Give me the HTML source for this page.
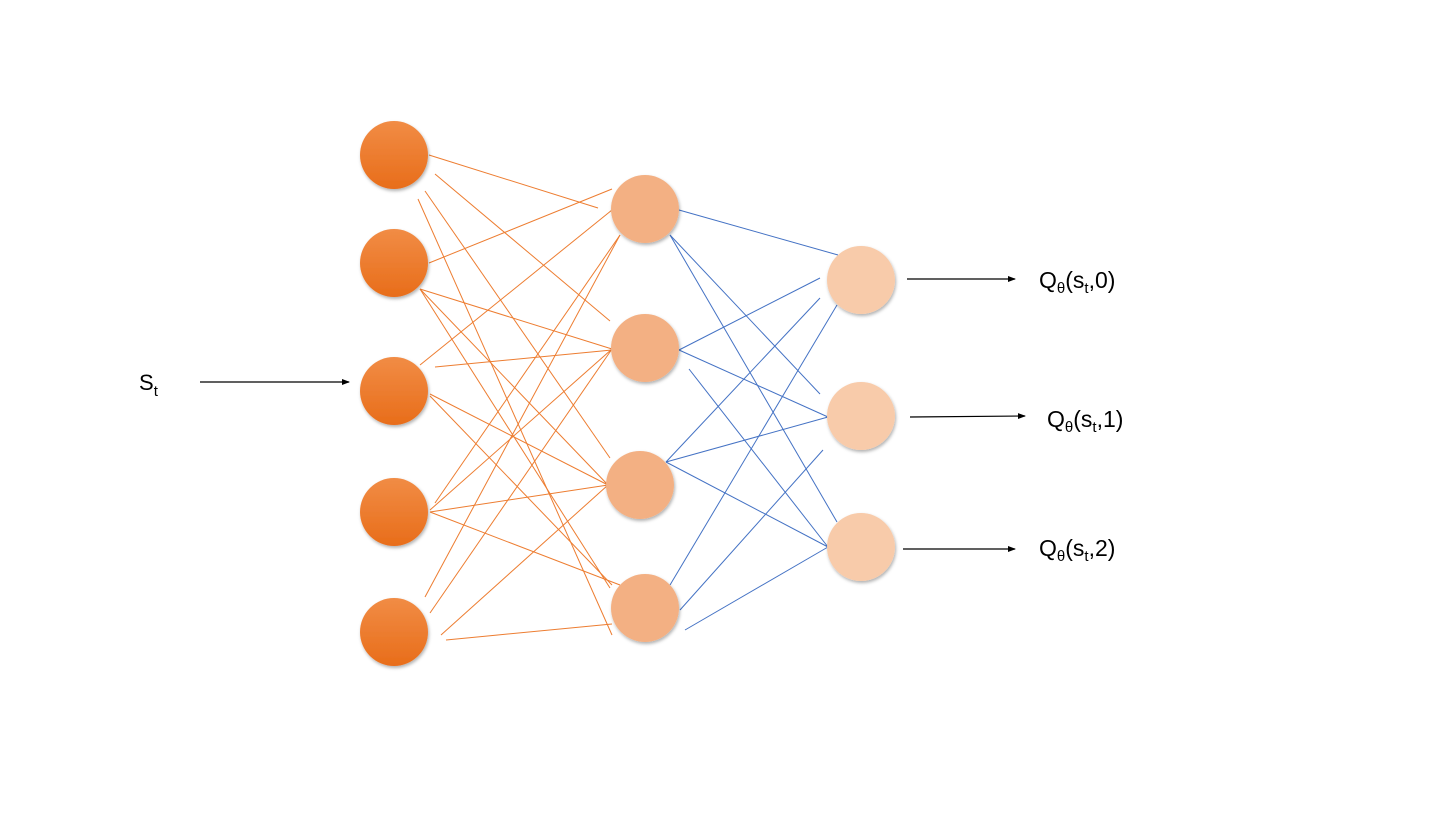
<!DOCTYPE html>
<html><head><meta charset="utf-8"><style>
body{margin:0;background:#fff;}
text{font-family:"Liberation Sans",sans-serif;fill:#000;}
</style></head><body>
<svg width="1440" height="810" viewBox="0 0 1440 810" xmlns="http://www.w3.org/2000/svg">
<defs>
<linearGradient id="g1" x1="0" y1="0" x2="0" y2="1"><stop offset="0" stop-color="#F18C45"/><stop offset="1" stop-color="#E86D1A"/></linearGradient>
<filter id="sh" x="-30%" y="-30%" width="160%" height="160%"><feDropShadow dx="1" dy="2" stdDeviation="1.5" flood-color="#000" flood-opacity="0.3"/></filter>
<marker id="ar" markerWidth="8" markerHeight="8" refX="7" refY="4" orient="auto" markerUnits="userSpaceOnUse"><path d="M0,1 L8,4 L0,7z" fill="#000"/></marker>
</defs>
<g stroke="#ED7D31" stroke-width="1">
<line x1="429" y1="155" x2="598" y2="208"/>
<line x1="435" y1="174" x2="610" y2="321"/>
<line x1="425" y1="191" x2="610" y2="458"/>
<line x1="418" y1="199" x2="612" y2="635"/>
<line x1="429" y1="263" x2="612" y2="189"/>
<line x1="420" y1="289" x2="612" y2="349"/>
<line x1="420" y1="289" x2="608" y2="485"/>
<line x1="420" y1="289" x2="610" y2="588"/>
<line x1="420" y1="365" x2="612" y2="210"/>
<line x1="435" y1="367" x2="612" y2="350"/>
<line x1="430" y1="394" x2="608" y2="485"/>
<line x1="430" y1="396" x2="612" y2="585"/>
<line x1="430" y1="510" x2="612" y2="349"/>
<line x1="435" y1="503" x2="620" y2="235"/>
<line x1="430" y1="512" x2="608" y2="485"/>
<line x1="430" y1="512" x2="620" y2="585"/>
<line x1="425" y1="597" x2="620" y2="235"/>
<line x1="430" y1="613" x2="612" y2="349"/>
<line x1="441" y1="635" x2="608" y2="485"/>
<line x1="446" y1="640" x2="612" y2="624"/>
</g>
<g stroke="#4472C4" stroke-width="1">
<line x1="679" y1="210" x2="838" y2="255"/>
<line x1="670" y1="235" x2="820" y2="394"/>
<line x1="670" y1="235" x2="837" y2="522"/>
<line x1="679" y1="350" x2="820" y2="278"/>
<line x1="679" y1="350" x2="828" y2="417"/>
<line x1="689" y1="369" x2="828" y2="547"/>
<line x1="666" y1="462" x2="820" y2="298"/>
<line x1="666" y1="462" x2="828" y2="417"/>
<line x1="666" y1="462" x2="828" y2="547"/>
<line x1="670" y1="585" x2="837" y2="305"/>
<line x1="680" y1="610" x2="823" y2="450"/>
<line x1="685" y1="630" x2="828" y2="547"/>
</g>
<g filter="url(#sh)">
<circle cx="394" cy="155" r="34" fill="url(#g1)"/>
<circle cx="394" cy="263" r="34" fill="url(#g1)"/>
<circle cx="394" cy="391" r="34" fill="url(#g1)"/>
<circle cx="394" cy="512" r="34" fill="url(#g1)"/>
<circle cx="394" cy="632" r="34" fill="url(#g1)"/>
<circle cx="645" cy="209" r="34" fill="#F3B083"/>
<circle cx="645" cy="348" r="34" fill="#F3B083"/>
<circle cx="640" cy="485" r="34" fill="#F3B083"/>
<circle cx="645" cy="608" r="34" fill="#F3B083"/>
<circle cx="861" cy="280" r="34" fill="#F8CBAA"/>
<circle cx="861" cy="416" r="34" fill="#F8CBAA"/>
<circle cx="861" cy="547" r="34" fill="#F8CBAA"/>
</g>
<g stroke="#000" stroke-width="1.2">
<line x1="200" y1="382" x2="349" y2="382" marker-end="url(#ar)"/>
<line x1="907" y1="279" x2="1015" y2="279" marker-end="url(#ar)"/>
<line x1="910" y1="417" x2="1025" y2="416" marker-end="url(#ar)"/>
<line x1="903" y1="549" x2="1015" y2="549" marker-end="url(#ar)"/>
</g>
<text x="139" y="390" font-size="22">S<tspan font-size="15" dy="6">t</tspan></text>
<text x="1039" y="288" font-size="23">Q<tspan font-size="15" dy="5">θ</tspan><tspan dy="-5">(s</tspan><tspan font-size="15" dy="5">t</tspan><tspan dy="-5">,0)</tspan></text>
<text x="1047" y="427" font-size="23">Q<tspan font-size="15" dy="5">θ</tspan><tspan dy="-5">(s</tspan><tspan font-size="15" dy="5">t</tspan><tspan dy="-5">,1)</tspan></text>
<text x="1039" y="556" font-size="23">Q<tspan font-size="15" dy="5">θ</tspan><tspan dy="-5">(s</tspan><tspan font-size="15" dy="5">t</tspan><tspan dy="-5">,2)</tspan></text>
</svg>
</body></html>
